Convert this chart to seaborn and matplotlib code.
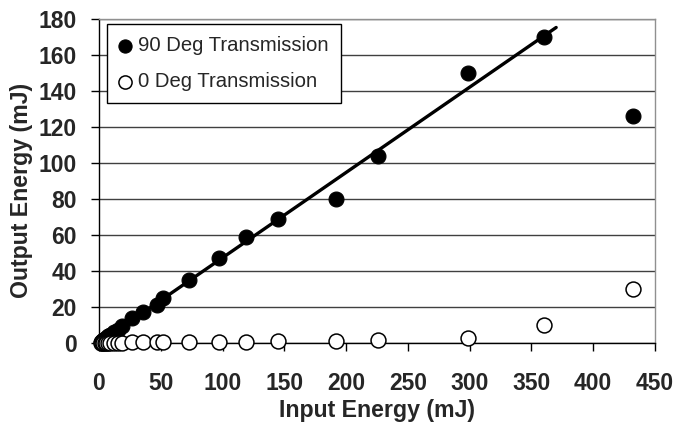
import numpy as np
import pandas as pd
import matplotlib
matplotlib.use("Agg")
import matplotlib.pyplot as plt
import seaborn as sns

# ---- data ----
input_energy = [1.5, 2.5, 3.5, 4.5, 6, 7.5, 9, 12, 15, 19, 27, 36, 47, 52,
                73, 97, 119, 145, 192, 226, 299, 360, 432]
out_90deg = [0.7, 1.2, 1.7, 2.2, 3.0, 3.7, 4.4, 6.0, 7.5, 9.5, 14, 17, 21, 25,
             35, 47, 59, 69, 80, 104, 150, 170, 126]
out_0deg = [0.1, 0.1, 0.1, 0.1, 0.1, 0.1, 0.2, 0.2, 0.2, 0.2, 0.3, 0.3, 0.3, 0.3,
            0.5, 0.5, 0.5, 1.0, 1.0, 1.5, 3.0, 10, 30]
series_labels = ["90 Deg Transmission", "0 Deg Transmission"]
fit_x_range = [0, 370]
x_ticks = [0, 50, 100, 150, 200, 250, 300, 350, 400, 450]
y_ticks = [0, 20, 40, 60, 80, 100, 120, 140, 160, 180]

df = pd.DataFrame({"x": input_energy, "y90": out_90deg, "y0": out_0deg})

# linear trend (through origin) of the 90 deg data up to 360 mJ
sub = df[df.x <= 360]
slope = float((sub.x * sub.y90).sum() / (sub.x ** 2).sum())
fit = pd.DataFrame({"x": fit_x_range})
fit["y"] = slope * fit["x"]

sns.set_theme(style="white")
plt.rcParams["font.family"] = ["Liberation Sans", "DejaVu Sans"]

fig = plt.figure(figsize=(6.77, 4.30), dpi=100)
ax = fig.add_axes([99 / 677, 1 - 343 / 430, 556 / 677, 324 / 430])

sns.lineplot(data=fit, x="x", y="y", ax=ax, color="black", lw=2.4, zorder=3)
sns.scatterplot(data=df, x="x", y="y90", ax=ax, color="black", edgecolor="black",
                s=115, linewidth=0.8, zorder=4, clip_on=False, label=series_labels[0])
sns.scatterplot(data=df, x="x", y="y0", ax=ax, color="white", edgecolor="black",
                s=115, linewidth=1.1, zorder=4, clip_on=False, label=series_labels[1])

ax.set_xlim(0, 450)
ax.set_ylim(0, 180)
ax.set_xticks(x_ticks)
ax.set_yticks(y_ticks)
ax.yaxis.grid(True, color="#404040", lw=1.0)
ax.xaxis.grid(False)
ax.set_axisbelow(True)

for side in ["left", "bottom"]:
    ax.spines[side].set_color("black")
    ax.spines[side].set_linewidth(1.0)
for side in ["top", "right"]:
    ax.spines[side].set_color("#909090")
    ax.spines[side].set_linewidth(1.0)

ax.tick_params(axis="both", direction="out", length=6, width=1, color="black",
               labelsize=16.5, left=True, bottom=True)
ax.tick_params(axis="x", pad=15)
ax.tick_params(axis="y", pad=10)
for lab in ax.get_xticklabels() + ax.get_yticklabels():
    lab.set_fontweight("bold")
ax.set_xlabel("Input Energy (mJ)", fontsize=16.7, fontweight="bold")
ax.set_ylabel("Output Energy (mJ)", fontsize=16.7, fontweight="bold")
ax.xaxis.set_label_coords(0.5, -0.172)
ax.yaxis.set_label_coords(-0.118, 0.472)

leg = ax.legend(loc="upper left", bbox_to_anchor=(0.0144, 0.985), fontsize=14.6,
                frameon=True, fancybox=False, shadow=False, framealpha=1,
                edgecolor="black", handlelength=0.6, handletextpad=0.35,
                labelspacing=0.85, borderpad=0.6, borderaxespad=0)
leg.get_frame().set_linewidth(1.0)
for h in leg.legend_handles:
    h.set_sizes([90])

fig.savefig("out.png", dpi=100)
